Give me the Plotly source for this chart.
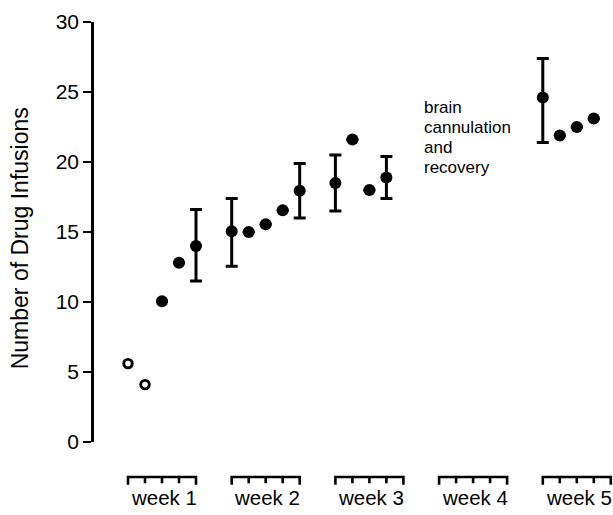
import plotly.graph_objects as go

# ---- data ----
week_labels = ["week 1", "week 2", "week 3", "week 4", "week 5"]
days_per_week = 5

# open circles (first two sessions)
open_week = [1, 1]
open_day = [1, 2]
open_infusions = [5.6, 4.1]

# filled circles
filled_week = [1, 1, 1, 2, 2, 2, 2, 2, 3, 3, 3, 3, 5, 5, 5, 5]
filled_day = [3, 4, 5, 1, 2, 3, 4, 5, 1, 2, 3, 4, 1, 2, 3, 4]
filled_infusions = [10.05, 12.8, 14.0, 15.05, 15.0, 15.55, 16.55, 17.95,
                    18.5, 21.6, 18.0, 18.9, 24.6, 21.9, 22.5, 23.1]
err_plus = [None, None, 2.6, 2.35, None, None, None, 1.95,
            2.0, None, None, 1.5, 2.8, None, None, None]
err_minus = [None, None, 2.5, 2.5, None, None, None, 1.95,
             2.0, None, None, 1.5, 3.2, None, None, None]

note_lines = ["brain", "cannulation", "and", "recovery"]

# ---- layout helpers ----
WEEK_SPAN = 6.1  # x units from one week's first day to the next week's first day


def xpos(w, d):
    return (w - 1) * WEEK_SPAN + (d - 1)


FONT = "Liberation Sans, Arial, Helvetica, sans-serif"
INK = "#000000"

fig = go.Figure()

fig.add_trace(go.Scatter(
    x=[xpos(w, d) for w, d in zip(open_week, open_day)],
    y=open_infusions,
    mode="markers",
    marker=dict(symbol="circle-open", size=8.5, color=INK, line=dict(width=2.9, color=INK)),
    cliponaxis=False, showlegend=False,
))

fig.add_trace(go.Scatter(
    x=[xpos(w, d) for w, d in zip(filled_week, filled_day)],
    y=filled_infusions,
    mode="markers",
    marker=dict(symbol="circle", size=12, color=INK),
    error_y=dict(type="data", symmetric=False, array=err_plus, arrayminus=err_minus,
                 color=INK, thickness=3, width=6),
    cliponaxis=False, showlegend=False,
))

XMIN = -2.0
XMAX = XMIN + 519 / 17.0
YMAX = 30.0

shapes = []
annotations = []
# week brackets beneath the plot
top = -2.5 / YMAX
end_bot = -3.05 / YMAX
mid_bot = -2.95 / YMAX
for i, lab in enumerate(week_labels):
    w = i + 1
    x0 = xpos(w, 1)
    x1 = xpos(w, days_per_week)
    path = f"M {x0},{end_bot} L {x0},{top} L {x1},{top} L {x1},{end_bot}"
    for d in range(2, days_per_week):
        xd = xpos(w, d)
        path += f" M {xd},{top} L {xd},{mid_bot}"
    shapes.append(dict(type="path", xref="x", yref="paper", path=path,
                       line=dict(color=INK, width=2.6)))
    annotations.append(dict(x=(x0 + x1) / 2 + 0.1, y=-3.95 / YMAX, xref="x", yref="paper",
                            text=lab, showarrow=False, xanchor="center", yanchor="middle",
                            font=dict(family=FONT, size=20.5, color=INK)))

# note text
note_y = [23.86, 22.43, 21.07, 19.64]
for t, yy in zip(note_lines, note_y):
    annotations.append(dict(x=17.3, y=yy, xref="x", yref="y", text=t, showarrow=False,
                            xanchor="left", yanchor="middle",
                            font=dict(family=FONT, size=17, color=INK)))

# y-axis title
annotations.append(dict(x=(20 - 94) / 519.0, y=0.485, xref="paper", yref="paper",
                        text="Number of Drug Infusions", textangle=-90, showarrow=False,
                        xanchor="center", yanchor="middle",
                        font=dict(family=FONT, size=23, color=INK)))

fig.update_layout(
    width=613, height=515,
    margin=dict(l=94, r=0, t=22, b=73),
    paper_bgcolor="white", plot_bgcolor="white",
    shapes=shapes, annotations=annotations,
    xaxis=dict(range=[XMIN, XMAX], visible=False),
    yaxis=dict(range=[0, YMAX], tickvals=[0, 5, 10, 15, 20, 25, 30],
               showgrid=False, zeroline=False, showline=True, linecolor=INK, linewidth=2.6,
               ticks="outside", ticklen=8, tickwidth=1.8, tickcolor=INK,
               tickfont=dict(family=FONT, size=21, color=INK)),
)

fig.write_html("out.html")
